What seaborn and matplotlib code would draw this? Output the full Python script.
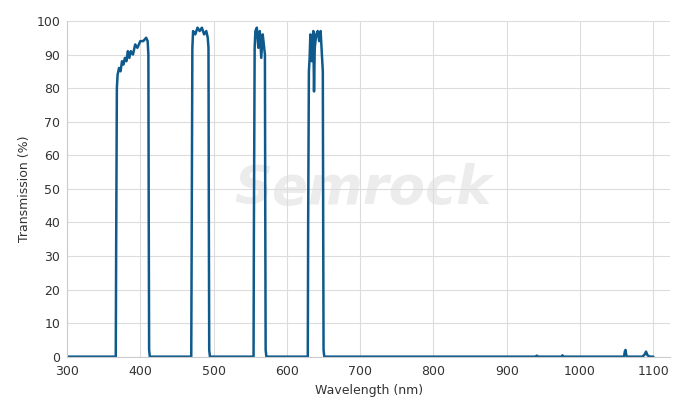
import matplotlib
matplotlib.use("Agg")
import matplotlib.pyplot as plt
import seaborn as sns
import pandas as pd

#-Transmission spectrum
wavelength = [300, 366.5, 367, 368, 369, 371, 373, 375, 377, 379, 381, 383, 385, 387, 390, 393, 396, 400, 404, 408, 410, 411, 411.5, 412, 413,
              469.5, 470, 471, 472, 475, 478, 481, 484, 487, 490, 492, 493, 493.5, 494, 495,
              554.5, 555, 556, 557, 559, 561, 563, 565, 567, 569, 570, 570.5, 571, 572,
              628.5, 629, 630, 631, 632, 634, 636, 637, 638, 640, 642, 644, 646, 648, 649, 649.5, 650, 651,
              940, 941, 942, 975, 976, 977, 1060, 1061, 1062, 1063, 1064, 1085, 1088, 1090, 1092, 1095, 1100]
transmission = [0, 0, 30, 80, 84, 86, 85, 88, 87, 89, 88, 91, 89, 91, 90, 93, 92, 94, 94, 95, 94, 90, 40, 2, 0,
                0, 30, 92, 97, 96, 98, 97, 98, 96, 97, 95, 92, 40, 2, 0,
                0, 40, 92, 97, 98, 92, 97, 89, 96, 92, 90, 40, 2, 0,
                0, 40, 85, 89, 96, 88, 97, 79, 92, 96, 97, 94, 97, 89, 85, 40, 2, 0,
                0, 0.3, 0, 0, 0.4, 0, 0, 1.5, 2, 0.5, 0, 0, 0.6, 1.5, 0.4, 0, 0]

df = pd.DataFrame({"Wavelength (nm)": wavelength, "Transmission (%)": transmission})

sns.set_style("whitegrid", {"grid.color": "#dcdcdc", "axes.edgecolor": "#cccccc"})
fig, ax = plt.subplots(figsize=(6.77, 4.03), dpi=100)
sns.lineplot(data=df, x="Wavelength (nm)", y="Transmission (%)", ax=ax,
             color="#0f5a8c", linewidth=1.8)

ax.set_xlim(300, 1123)
ax.set_ylim(0, 100)
ax.set_xticks(range(300, 1101, 100))
ax.set_yticks(range(0, 101, 10))
ax.tick_params(labelsize=9, colors="#333333", length=0)
ax.tick_params(axis="x", pad=6)
ax.tick_params(axis="y", pad=5)
ax.set_xlabel("Wavelength (nm)", fontsize=9, color="#333333")
ax.set_ylabel("Transmission (%)", fontsize=9, color="#333333")
ax.text(0.49, 0.5, "Semrock", transform=ax.transAxes, fontsize=38, fontstyle="italic",
        fontweight="bold", color="#ececec", ha="center", va="center", zorder=0)
for s in ["top", "right"]:
    ax.spines[s].set_visible(False)

fig.subplots_adjust(left=0.099, right=0.99, top=0.948, bottom=0.115)
fig.savefig("out.png", dpi=100)
